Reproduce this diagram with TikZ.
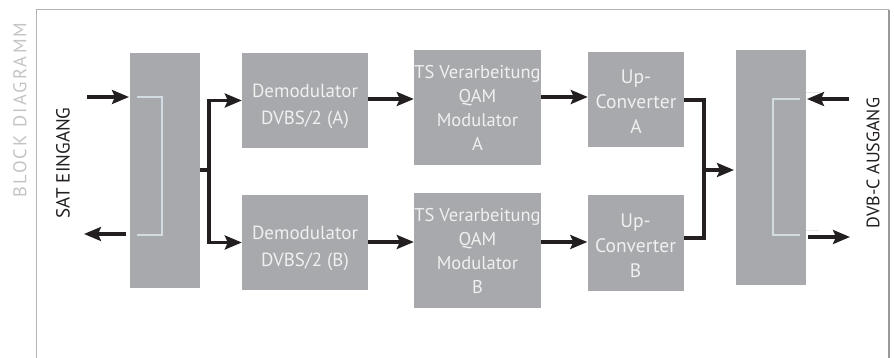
\documentclass[tikz,border=0pt]{standalone}
\usepackage{fontspec}
\setmainfont{PT Sans}
\newfontfamily\titlefont[LetterSpace=12]{PT Sans}
\usetikzlibrary{arrows.meta}
\definecolor{boxgray}{HTML}{A7A9AC}
\definecolor{brk}{HTML}{D3DCE2}
\definecolor{framegray}{HTML}{B4B4B4}
\definecolor{titlegray}{HTML}{C4C4C4}
\definecolor{ink}{HTML}{231F20}
\begin{document}
\begin{tikzpicture}[x=1pt,y=-1pt,
  blk/.style={fill=boxgray,draw=none},
  txt/.style={text=white!94!black,align=center,inner sep=0pt},
  arr/.style={draw=ink,line width=3.1pt,-{Stealth[length=17pt,width=14pt,inset=3pt]}},
  wire/.style={draw=ink,line width=3.1pt},
  bracket/.style={draw=brk,line width=2.8pt},
  faint/.style={draw=brk!60!white,line width=1pt}]
\useasboundingbox (0,0) rectangle (895,358);
\fill[white] (0,0) rectangle (895,358);
% frame
\draw[framegray,line width=1pt] (36,358) -- (36,10) -- (889,10);
\draw[framegray!85!black,line width=2pt] (889,10) -- (889,358);
\node[rotate=90,text=titlegray,font=\titlefont\fontsize{18.5}{20}\selectfont] (title) at (20,110) {BLOCK DIAGRAMM};
% left splitter
\fill[blk] (130,53) rectangle (200,288);
\coordinate (lsR) at (200,170);
\draw[bracket] (137,97) -- (162,97) -- (162,235) -- (137,235);
\coordinate (inA) at (87,97);
\coordinate (inB) at (129,97);
\coordinate (outA) at (126,234);
\coordinate (outB) at (84,234);
\draw[arr] (inA) -- (inB);
\draw[arr] (outA) -- (outB);
\node[rotate=90,font=\fontsize{19}{22}\selectfont,text=ink] (sat) at (63,163) {SAT EINGANG};
% demodulators
\node[blk,minimum width=126pt,minimum height=95pt,inner sep=0pt] (demA) at (305,100.5) {};
\node[txt,font=\fontsize{19}{27}\selectfont] at ([yshift=-6pt]demA.center) {Demodulator\\DVBS/2 (A)};
\node[blk,minimum width=126pt,minimum height=95pt,inner sep=0pt] (demB) at (305,242.5) {};
\node[txt,font=\fontsize{19}{27}\selectfont] at ([yshift=-6pt]demB.center) {Demodulator\\DVBS/2 (B)};
% TS
\node[blk,minimum width=127pt,minimum height=115pt,inner sep=0pt] (tsA) at (477.5,107.5) {};
\node[txt,font=\fontsize{18.5}{24}\selectfont] at (tsA) {TS Verarbeitung\\QAM\\Modulator\\A};
\node[blk,minimum width=127pt,minimum height=115pt,inner sep=0pt] (tsB) at (477.5,250.5) {};
\node[txt,font=\fontsize{18.5}{24}\selectfont] at (tsB) {TS Verarbeitung\\QAM\\Modulator\\B};
% up-converters
\node[blk,minimum width=96pt,minimum height=95pt,inner sep=0pt] (upA) at (636,99.5) {};
\node[txt,font=\fontsize{19.5}{25}\selectfont] at ([yshift=-2.5pt]upA.center) {Up-\\Converter\\A};
\node[blk,minimum width=96pt,minimum height=96pt,inner sep=0pt] (upB) at (635.5,243) {};
\node[txt,font=\fontsize{19.5}{25}\selectfont] at ([yshift=-2.5pt]upB.center) {Up-\\Converter\\B};
% right combiner
\fill[blk] (736,50) rectangle (806,285);
\coordinate (rsL) at (734,170);
\draw[bracket] (800,99) -- (773,99) -- (773,235) -- (800,235);
\draw[faint] (806,93) -- (820,93);
\draw[faint] (806,231) -- (819,231);
\coordinate (rinA) at (849,99);
\coordinate (rinB) at (807,99);
\coordinate (routA) at (808,237);
\coordinate (routB) at (850,237);
\draw[arr] (rinA) -- (rinB);
\draw[arr] (routA) -- (routB);
\node[rotate=90,font=\fontsize{18}{22}\selectfont,text=ink] (dvbc) at (873,163) {DVB-C AUSGANG};
% split
\draw[wire] (lsR) -- (209,170);
\draw[arr] (209,170) |- (demA.west);
\draw[arr] (209,170) |- (demB.west);
% chain
\draw[arr] (demA.east |- 0,99) -- (tsA.west |- 0,99);
\draw[arr] (demB.east |- 0,242) -- (tsB.west |- 0,242);
\draw[arr] (tsA.east |- 0,97) -- (upA.west |- 0,97);
\draw[arr] (tsB.east |- 0,242) -- (upB.west |- 0,242);
% merge
\draw[wire] (upA.east |- 0,100) -- (704,100) -- (704,238) -- (upB.east |- 0,238);
\draw[arr] (704,170) -- (rsL);
\end{tikzpicture}
\end{document}
